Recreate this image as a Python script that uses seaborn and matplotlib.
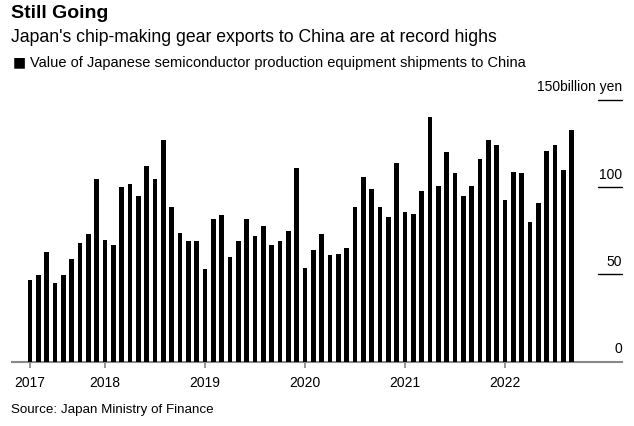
import matplotlib
matplotlib.use("Agg")
import matplotlib.pyplot as plt
import matplotlib.transforms as mtransforms
import seaborn as sns
import pandas as pd

# Monthly values, Apr 2017 .. Sep 2022 (billion yen)
months = pd.date_range("2017-04-01", "2022-09-01", freq="MS").strftime("%Y-%m").tolist()
values = [
    46.8, 49.7, 62.8, 45.1, 49.7, 58.8, 68.0, 73.1, 104.6,            # 2017 Apr-Dec
    69.7, 66.8, 100.0, 101.6, 94.9, 112.1, 104.6, 127.0, 88.6, 73.7, 69.1, 69.1,  # 2018
    53.1, 81.7, 84.0, 60.0, 69.1, 81.7, 72.0, 77.7, 66.8, 69.1, 74.8, 110.9,     # 2019
    53.7, 64.0, 73.1, 61.1, 61.7, 65.1, 88.6, 105.8, 98.9, 88.6, 82.9, 113.8,    # 2020
    85.7, 84.6, 97.8, 140.1, 100.6, 120.1, 108.1, 94.9, 100.6, 116.1, 127.0, 124.1,  # 2021
    92.6, 108.6, 108.1, 80.0, 90.9, 120.7, 124.1, 109.8, 132.6,     # 2022 Jan-Sep
]
year_labels = ["2017", "2018", "2019", "2020", "2021", "2022"]
year_months = ["2017-04", "2018-01", "2019-01", "2020-01", "2021-01", "2022-01"]
y_ticks = [0, 50, 100, 150]
y_tick_labels = ["0", "50", "100", "150billion yen"]

df = pd.DataFrame({"month": months, "value": values})

sns.set_theme(style="white")
plt.rcParams["font.family"] = ["Liberation Sans", "DejaVu Sans"]

fig = plt.figure(figsize=(6.34, 4.26), dpi=100)
ax = fig.add_axes([12 / 634, 1 - 361.7 / 426, 610 / 634, (361.7 - 100) / 426])

sns.barplot(data=df, x="month", y="value", color="black", width=0.56,
            saturation=1, ax=ax, order=months, linewidth=0, edgecolor="black")

ax.set_xlim(-2.16, 71.06)
ax.set_ylim(0, 150)
ax.set_xlabel("")
ax.set_ylabel("")

for s in ["top", "right", "left"]:
    ax.spines[s].set_visible(False)
ax.spines["bottom"].set_color("#888888")
ax.spines["bottom"].set_linewidth(1.5)
ax.spines["bottom"].set_zorder(0.5)

xt = [months.index(m) for m in year_months]
ax.set_xticks(xt)
ax.set_xticklabels(year_labels, fontsize=10, color="black")
ax.tick_params(axis="x", length=4, width=1.2, color="#888888", pad=6, bottom=True)
ax.set_yticks([])

# right-side y labels with short rules
trans = mtransforms.blended_transform_factory(ax.transAxes, ax.transData)
for v, lab in zip(y_ticks, y_tick_labels):
    if v > 0:
        ax.plot([0.961, 1.0], [v, v], transform=trans, color="black", lw=1, clip_on=False)
    off = mtransforms.ScaledTranslation(0, 8.5 / 100, fig.dpi_scale_trans)
    ax.text(1.0, v, lab, transform=trans + off, ha="right", va="baseline",
            fontsize=10, color="black")

# titles
fig.text(11 / 634, 1 - 13.5 / 426, "Still Going", fontsize=14, fontweight="bold",
         ha="left", va="center", color="black")
fig.text(11 / 634, 1 - 37 / 426, "Japan's chip-making gear exports to China are at record highs",
         fontsize=12.7, ha="left", va="center", color="black")
fig.text(12.5 / 634, 1 - 62.5 / 426, "\u25A0", fontsize=10, ha="left", va="center", color="black",
         family=["DejaVu Sans"])
fig.text(30 / 634, 1 - 63 / 426,
         "Value of Japanese semiconductor production equipment shipments to China",
         fontsize=10.5, ha="left", va="center", color="black")
fig.text(11 / 634, 1 - 410 / 426, "Source: Japan Ministry of Finance",
         fontsize=9.6, ha="left", va="center", color="black")

fig.savefig("out.png", dpi=100)
